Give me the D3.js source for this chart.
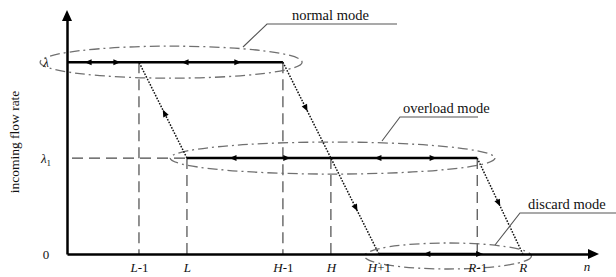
<!DOCTYPE html>
<html><head><meta charset="utf-8">
<script src="https://cdn.jsdelivr.net/npm/d3@7"></script>
<style>
html,body{margin:0;padding:0;background:#fff;}
svg{display:block;font-family:"Liberation Serif","Times New Roman",serif;}
</style></head>
<body>
<svg id="c" width="616" height="277"></svg>
<script>
// ---- data ----
const nLabels = ["L-1","L","H-1","H","H+1","R-1","R"];
const nValues = [1.5, 2.5, 4.5, 5.5, 6.5, 8.55, 9.5];
const levelValues = [0, 1, 2];           // 0, λ1, λ
const levelLabels = ["0", "λ1", "λ"];
// modes: [start n, end n, level]
const modeNames = ["normal mode", "overload mode", "discard mode"];
const modeStart = [0, 2.5, 6.5];
const modeEnd   = [4.5, 8.55, 8.55];
const modeLevel = [2, 1, 0];
// ellipse extents (n) around each mode
const ellStart = [-0.56, 2.15, 6.2];
const ellEnd   = [4.9, 8.92, 9.68];
// direction arrows on the mode lines: n position, direction (-1 left, +1 right)
const normalArrows   = [[0.44,-1],[1.04,1],[2.46,-1],[3.56,1]];
const overloadArrows = [[3.46,-1],[4.58,1],[6.48,-1],[7.63,1]];
const discardArrows  = [[7.5,-1],[8.6,1]];
// transitions: from [n, level] to [n, level], arrow positions (fraction along, pointing from -> to)
const transFrom = [[2.5,1],[4.5,2],[8.55,1]];
const transTo   = [[1.5,2],[6.5,0],[9.5,0]];
const transArrows = [[0.47],[0.24,0.76],[0.47]];
// dashed guide lines: [n, top level]
const guideN   = [1.5, 2.5, 4.5, 5.5, 8.55];
const guideTop = [2, 1, 2, 1, 1];

// ---- layout ----
const svg = d3.select("#c");
const x = d3.scaleLinear().domain([0, 10.9]).range([67, 590]);
const y = d3.scaleLinear().domain([0, 2.45]).range([254, 19]);

const dashGray = "#4a4a4a", ellGray = "#707070", ink = "#111";

// dashed guides
svg.selectAll(".guide").data(guideN).enter().append("line")
  .attr("x1", d => x(d)).attr("x2", d => x(d))
  .attr("y1", (d,i) => y(guideTop[i])).attr("y2", y(0))
  .attr("stroke", dashGray).attr("stroke-width", 1.2).attr("stroke-dasharray", "11,6");
svg.append("line").attr("x1", x(0)+5).attr("x2", x(2.5)).attr("y1", y(1)).attr("y2", y(1))
  .attr("stroke", dashGray).attr("stroke-width", 1.2).attr("stroke-dasharray", "11,6");

// ellipses
svg.selectAll(".ell").data(modeNames).enter().append("ellipse")
  .attr("cx", (d,i) => (x(ellStart[i]) + x(ellEnd[i]))/2)
  .attr("cy", (d,i) => y(modeLevel[i]) + (i===2 ? 2 : 0))
  .attr("rx", (d,i) => (x(ellEnd[i]) - x(ellStart[i]))/2)
  .attr("ry", (d,i) => i===2 ? 13 : 16)
  .attr("fill", "none").attr("stroke", ellGray).attr("stroke-width", 1.3)
  .attr("stroke-dasharray", "10,4,2,4");

// axes
const xAxis = d3.axisBottom(x).tickValues(nValues).tickFormat((d,i) => nLabels[i])
  .tickSize(0).tickPadding(9);
const gx = svg.append("g").attr("transform", `translate(0,${y(0)})`).call(xAxis);
gx.select(".domain").attr("stroke", "#000").attr("stroke-width", 2.5);
gx.selectAll(".tick text").attr("font-size", 13).attr("fill", ink)
  .attr("font-family", "Liberation Serif, serif")
  .each(function(d,i){
    const t = d3.select(this); const lab = nLabels[i];
    t.text(null);
    t.append("tspan").attr("font-style","italic").text(lab[0]);
    if (lab.length > 1) t.append("tspan").text(lab.slice(1));
  });
svg.append("path").attr("d", `M${x(10.9)-2},${y(0)-5} L${x(10.9)+9},${y(0)} L${x(10.9)-2},${y(0)+5} Z`).attr("fill","#000");
svg.append("text").attr("x", 587).attr("y", 271).attr("font-style","italic").attr("font-size",13)
  .attr("text-anchor","middle").attr("fill",ink).text("n");

const yAxis = d3.axisLeft(y).tickValues(levelValues).tickFormat((d,i)=>levelLabels[i])
  .tickSize(0).tickPadding(16);
const gy = svg.append("g").attr("transform", `translate(${x(0)},0)`).call(yAxis);
gy.select(".domain").attr("stroke", "#000").attr("stroke-width", 2.5);
gy.selectAll(".tick text").attr("font-size", 13).attr("fill", ink)
  .attr("font-family", "Liberation Serif, serif").attr("text-anchor","middle").attr("x", -21)
  .each(function(d,i){
    const t = d3.select(this); const lab = levelLabels[i];
    if (lab === "0") return;
    t.text(null);
    t.append("tspan").attr("font-style","italic").text("λ");
    if (lab.length > 1) t.append("tspan").attr("font-size", 9).attr("dy", 3).text(lab.slice(1));
  });
svg.append("path").attr("d", `M${x(0)-5},${y(2.45)+2} L${x(0)},${y(2.45)-9} L${x(0)+5},${y(2.45)+2} Z`).attr("fill","#000");

svg.append("text").attr("transform", `translate(19,142) rotate(-90)`).attr("text-anchor","middle")
  .attr("font-size", 13.5).attr("fill",ink).text("incoming flow rate");

// mode lines
svg.selectAll(".mode").data(modeNames).enter().append("line")
  .attr("x1", (d,i) => x(modeStart[i])).attr("x2", (d,i) => x(modeEnd[i]))
  .attr("y1", (d,i) => y(modeLevel[i])).attr("y2", (d,i) => y(modeLevel[i]))
  .attr("stroke", "#000").attr("stroke-width", 2.5);

function tri(cx, cy, ang, len=7, w=3) {
  const c = Math.cos(ang), s = Math.sin(ang);
  const tip = [cx + c*len/2, cy + s*len/2];
  const b1 = [cx - c*len/2 - s*w, cy - s*len/2 + c*w];
  const b2 = [cx - c*len/2 + s*w, cy - s*len/2 - c*w];
  return `M${tip}L${b1}L${b2}Z`;
}
const hArrows = [[normalArrows,2],[overloadArrows,1],[discardArrows,0]];
hArrows.forEach(([arr, lev]) => {
  svg.selectAll(null).data(arr).enter().append("path")
    .attr("d", d => tri(x(d[0]), y(lev), d[1] > 0 ? 0 : Math.PI))
    .attr("fill", "#000");
});

// transitions
transFrom.forEach((f, i) => {
  const t = transTo[i];
  const x1 = x(f[0]), y1 = y(f[1]), x2 = x(t[0]), y2 = y(t[1]);
  svg.append("line").attr("x1", x1).attr("y1", y1).attr("x2", x2).attr("y2", y2)
    .attr("stroke", "#111").attr("stroke-width", 1.5).attr("stroke-dasharray", "1.6,1.4");
  const ang = Math.atan2(y2 - y1, x2 - x1);
  transArrows[i].forEach(fr => {
    svg.append("path").attr("d", tri(x1 + (x2-x1)*fr, y1 + (y2-y1)*fr, ang)).attr("fill", "#000");
  });
});

// mode labels with leader lines
const leaderA = [[243,47],[382,141],[495,245]];
const leaderB = [[267,24],[400,117],[520,213]];
const underlineEnd = [397, 478, 616];
const labelX = [292, 403, 528];
modeNames.forEach((name, i) => {
  svg.append("path")
    .attr("d", `M${leaderA[i]}L${leaderB[i]}L${underlineEnd[i]},${leaderB[i][1]}`)
    .attr("fill","none").attr("stroke", "#555").attr("stroke-width", 1.1);
  svg.append("text").attr("x", labelX[i]).attr("y", leaderB[i][1] - 4)
    .attr("font-size", 14.5).attr("fill", ink).text(name);
});
</script>
</body></html>
